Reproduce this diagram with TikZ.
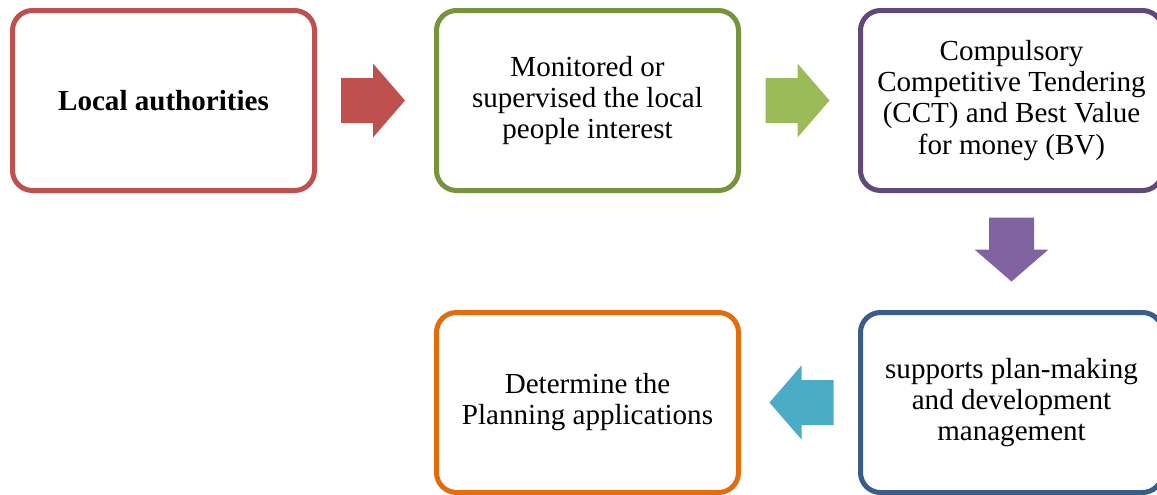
\documentclass[tikz,border=0pt]{standalone}
\usepackage{fontspec}
\setmainfont{Liberation Serif}
\usepackage{tikz}
\usetikzlibrary{positioning, calc}
\definecolor{authred}{HTML}{C0504D}
\definecolor{monigreen}{HTML}{77933C}
\definecolor{arrgreen}{HTML}{9BBB59}
\definecolor{cctpurple}{HTML}{5F497A}
\definecolor{arrpurple}{HTML}{8064A2}
\definecolor{planblue}{HTML}{385D8A}
\definecolor{arrblue}{HTML}{4BACC6}
\definecolor{detorange}{HTML}{E46C0A}

\begin{document}
\begin{tikzpicture}[x=0.75pt, y=-0.75pt,
    stage/.style={draw, rounded corners=15pt, line width=3.75pt, fill=white,
      minimum width=226.5pt, minimum height=135pt, outer sep=0pt, align=center,
      font=\fontsize{21.8}{23.3}\selectfont},
    blockarrow/.pic={\fill (-32, -22.5) -- (0, -22.5) -- (0, -37) -- (32, 0)
      -- (0, 37) -- (0, 22.5) -- (-32, 22.5) -- cycle;}]
      \useasboundingbox (0, 0) rectangle (1157, 494);
      \clip (0, 0) rectangle (1157, 494);

      % top row
      \node[stage, draw=authred, font=\fontsize{21.8}{23.3}\selectfont\bfseries] (auth) at (163.5, 100.5) {Local authorities};
      \node[stage, draw=monigreen, right=91.5pt of auth] (moni) {Monitored or\\supervised the local\\people interest};
      \node[stage, draw=cctpurple, right=91.5pt of moni] (cct) {Compulsory\\Competitive Tendering\\(CCT) and Best Value\\for money (BV)};

      % bottom row
      \node[stage, draw=planblue, below=91.5pt of cct] (plan) {supports plan-making\\and development\\management};
      \node[stage, draw=detorange, left=91.5pt of plan] (det) {Determine the\\Planning applications};

      % block arrows
      \coordinate (m1) at ($(auth.east)!0.5!(moni.west) + (-2.5, 0)$);
      \coordinate (m2) at ($(moni.east)!0.5!(cct.west) + (-2, 0)$);
      \coordinate (m3) at ($(cct.south)!0.5!(plan.north) + (0, -2)$);
      \coordinate (m4) at ($(plan.west)!0.5!(det.east) + (2, 0)$);
      \pic[authred] at (m1) {blockarrow};
      \pic[arrgreen] at (m2) {blockarrow};
      \pic[arrpurple, rotate=-90] at (m3) {blockarrow};
      \pic[arrblue, rotate=180] at (m4) {blockarrow};
    \end{tikzpicture}
\end{document}
